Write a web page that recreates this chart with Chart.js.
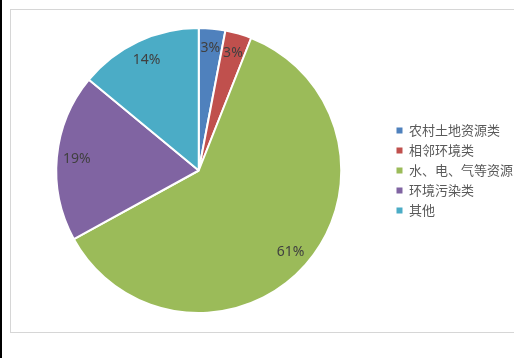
<!DOCTYPE html>
<html><head><meta charset="utf-8">
<script src="https://cdn.jsdelivr.net/npm/chart.js@4/dist/chart.umd.min.js"></script>
<style>
html,body{margin:0;padding:0;background:#fff;width:514px;height:358px;overflow:hidden;position:relative}
#frame{position:absolute;left:10px;top:9px;width:520px;height:322px;border:1px solid #d6d6d6}
#bar{position:absolute;left:0;top:0;width:2px;height:358px;background:#000}
#wrap{position:absolute;left:0;top:10px;width:523px;height:322px}
</style></head>
<body>
<div id="frame"></div>
<div id="wrap"><canvas id="c" width="523" height="322"></canvas></div>
<div id="bar"></div>
<script>
const categories = ['农村土地资源类','相邻环境类','水、电、气等资源','环境污染类','其他'];
const values = [3, 3, 61, 19, 14];
const colors = ['#4F81BD','#C0504D','#9BBB59','#8064A2','#4BACC6'];

const labelPlugin = {
  id: 'sliceLabels',
  afterDatasetsDraw(chart) {
    const ctx = chart.ctx;
    const meta = chart.getDatasetMeta(0);
    ctx.save();
    ctx.font = '14px "Noto Sans", "DejaVu Sans", sans-serif';
    ctx.fillStyle = '#404040';
    ctx.textAlign = 'center';
    ctx.textBaseline = 'middle';
    meta.data.forEach((arc, i) => {
      const p = arc.getProps(['x','y','startAngle','endAngle','outerRadius'], true);
      const a = (p.startAngle + p.endAngle) / 2;
      const r = p.outerRadius * 0.86;
      ctx.fillText(values[i] + '%', p.x + Math.cos(a) * r, p.y + Math.sin(a) * r);
    });
    ctx.restore();
  }
};

const defaultGen = Chart.overrides.pie.plugins.legend.labels.generateLabels;
new Chart(document.getElementById('c'), {
  type: 'pie',
  data: {
    labels: categories,
    datasets: [{ data: values, backgroundColor: colors, borderColor: '#ffffff', borderWidth: 2 }]
  },
  options: {
    responsive: false,
    animation: false,
    layout: { padding: { left: 8, top: 17, bottom: 18, right: 0 } },
    plugins: {
      tooltip: { enabled: false },
      legend: {
        position: 'right',
        align: 'center',
        labels: {
          boxWidth: 6, boxHeight: 6, padding: 7,
          color: '#595959',
          font: { size: 13, family: '"Noto Sans CJK SC", sans-serif' },
          generateLabels(chart) {
            return defaultGen(chart).map(l => Object.assign(l, { lineWidth: 0, strokeStyle: l.fillStyle }));
          }
        }
      }
    }
  },
  plugins: [labelPlugin]
});
</script>
</body></html>
